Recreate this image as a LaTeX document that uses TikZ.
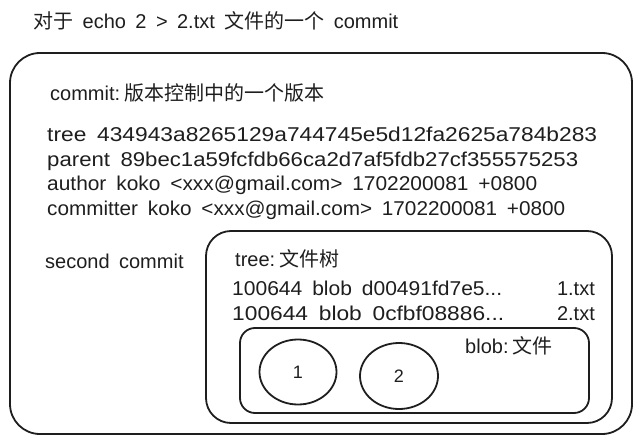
\documentclass[tikz,border=0pt]{standalone}
\usepackage{fontspec}
\setmainfont{Liberation Sans}[WordSpace=1.7]
\newfontfamily\cjk{Noto Sans CJK SC}
\usetikzlibrary{shapes.geometric}
\definecolor{ink}{HTML}{1E1E1E}
\newcommand\hw[2]{\resizebox{#1pt}{\height}{#2}}
\begin{document}
\begin{tikzpicture}[x=1pt,y=-1pt,
  frame/.style={draw=ink, line width=1.8pt, rounded corners=#1},
  lbl/.style={anchor=base west, inner sep=0pt, text=ink, font=\fontsize{20}{24}\selectfont},
  rlbl/.style={lbl, anchor=base east},
  blobnode/.style={draw=ink, line width=1.8pt, ellipse, inner sep=0pt, text=ink, font=\fontsize{18}{22}\selectfont}]
\useasboundingbox (0,0) rectangle (643,444);
% frames
\draw[frame=30] (10,53) rectangle (632,434);
\draw[frame=25] (206,231) rectangle (612,423);
\draw[frame=15] (240,328) rectangle (589,413);
% title
\node[lbl] (title) at (33,29) {{\cjk 对于} echo 2 > 2.txt {\cjk 文件的一个} commit};
% commit block
\node[lbl] (clabel) at (50,100) {commit:\hspace{4pt}{\cjk 版本控制中的一个版本}};
\node[lbl] (ltree) at (47,141) {\hw{550}{tree 434943a8265129a744745e5d12fa2625a784b283}};
\node[lbl] (lparent) at (47,166) {\hw{531}{parent 89bec1a59fcfdb66ca2d7af5fdb27cf355575253}};
\node[lbl] (lauthor) at (47,190) {\hw{490}{author koko <xxx@gmail.com> 1702200081 +0800}};
\node[lbl] (lcommitter) at (47,215) {\hw{518}{committer koko <xxx@gmail.com> 1702200081 +0800}};
\node[lbl] (second) at (45,268) {second commit};
% tree block
\node[lbl] (tlabel) at (235,266) {tree:\hspace{4pt}{\cjk 文件树}};
\node[lbl] (e1) at (232,295) {\hw{270}{100644 blob d00491fd7e5...}};
\node[rlbl] (f1) at (595,295) {1.txt};
\node[lbl] (e2) at (232,320) {\hw{272}{100644 blob 0cfbf08886...}};
\node[rlbl] (f2) at (595,320) {2.txt};
% blob block
\node[lbl] (blabel) at (465,353) {blob:\hspace{4pt}{\cjk 文件}};
\node[blobnode, minimum width=77pt, minimum height=65pt] (b1) at (298,372) {1};
\node[blobnode, minimum width=78pt, minimum height=66pt] (b2) at (399,376) {2};
\end{tikzpicture}
\end{document}
